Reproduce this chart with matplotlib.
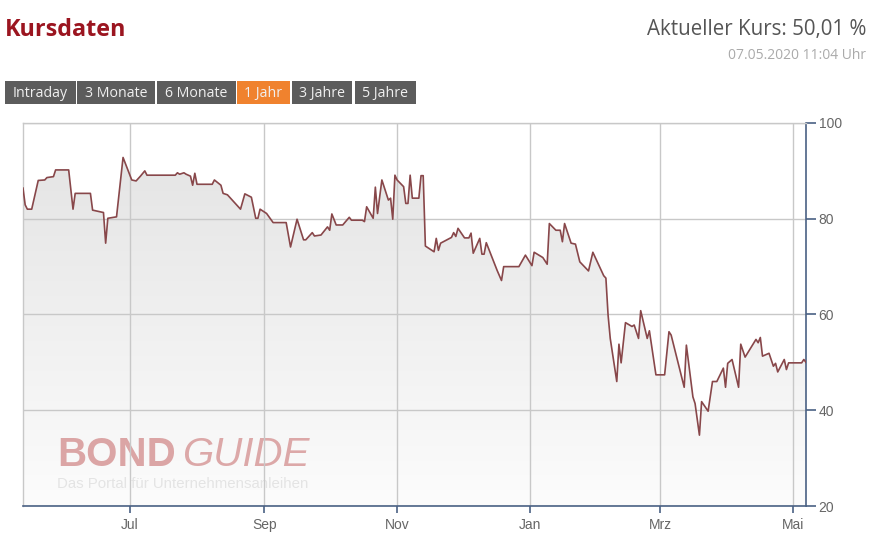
import numpy as np
import pandas as pd
import matplotlib
matplotlib.use("Agg")
import matplotlib.pyplot as plt
import matplotlib.dates as mdates
from matplotlib.patches import Rectangle, Polygon
from matplotlib.colors import LinearSegmentedColormap

dates = [
    "2019-05-13", "2019-05-14", "2019-05-15", "2019-05-17", "2019-05-20", "2019-05-23",
    "2019-05-24", "2019-05-27", "2019-05-28", "2019-06-03", "2019-06-05", "2019-06-06",
    "2019-06-13", "2019-06-14", "2019-06-17", "2019-06-19", "2019-06-20", "2019-06-21",
    "2019-06-25", "2019-06-28", "2019-07-02", "2019-07-04", "2019-07-06", "2019-07-08",
    "2019-07-09", "2019-07-22", "2019-07-23", "2019-07-24", "2019-07-26", "2019-07-27",
    "2019-07-29", "2019-07-30", "2019-07-31", "2019-08-01", "2019-08-08", "2019-08-09",
    "2019-08-12", "2019-08-13", "2019-08-15", "2019-08-21", "2019-08-23", "2019-08-26",
    "2019-08-28", "2019-08-29", "2019-08-30", "2019-09-02", "2019-09-05", "2019-09-11",
    "2019-09-13", "2019-09-16", "2019-09-19", "2019-09-20", "2019-09-23", "2019-09-24",
    "2019-09-27", "2019-09-30", "2019-10-01", "2019-10-02", "2019-10-04", "2019-10-07",
    "2019-10-10", "2019-10-11", "2019-10-16", "2019-10-17", "2019-10-18", "2019-10-21",
    "2019-10-22", "2019-10-23", "2019-10-25", "2019-10-28", "2019-10-29", "2019-10-30",
    "2019-10-31", "2019-11-01", "2019-11-04", "2019-11-05", "2019-11-06", "2019-11-07",
    "2019-11-08", "2019-11-11", "2019-11-12", "2019-11-13", "2019-11-14", "2019-11-18",
    "2019-11-19", "2019-11-20", "2019-11-21", "2019-11-26", "2019-11-27", "2019-11-28",
    "2019-11-29", "2019-12-02", "2019-12-04", "2019-12-05", "2019-12-06", "2019-12-09",
    "2019-12-10", "2019-12-11", "2019-12-12", "2019-12-17", "2019-12-19", "2019-12-20",
    "2019-12-27", "2019-12-30", "2020-01-02", "2020-01-03", "2020-01-07", "2020-01-09",
    "2020-01-10", "2020-01-13", "2020-01-15", "2020-01-16", "2020-01-17", "2020-01-20",
    "2020-01-22", "2020-01-24", "2020-01-28", "2020-01-30", "2020-02-04", "2020-02-05",
    "2020-02-06", "2020-02-07", "2020-02-10", "2020-02-11", "2020-02-12", "2020-02-14",
    "2020-02-17", "2020-02-18", "2020-02-20", "2020-02-21", "2020-02-24", "2020-02-25",
    "2020-02-28", "2020-03-03", "2020-03-05", "2020-03-06", "2020-03-12", "2020-03-13",
    "2020-03-16", "2020-03-17", "2020-03-19", "2020-03-20", "2020-03-23", "2020-03-25",
    "2020-03-27", "2020-03-30", "2020-03-31", "2020-04-01", "2020-04-03", "2020-04-06",
    "2020-04-07", "2020-04-09", "2020-04-14", "2020-04-15", "2020-04-16", "2020-04-17",
    "2020-04-20", "2020-04-22", "2020-04-23", "2020-04-24", "2020-04-27", "2020-04-28",
    "2020-04-29", "2020-05-05", "2020-05-06", "2020-05-07",
]
kurs = [
    86.4, 82.9, 82.0, 82.0, 88.0, 88.1,
    88.6, 88.8, 90.2, 90.2, 82.0, 85.3,
    85.3, 81.8, 81.5, 81.3, 74.9, 80.1,
    80.4, 92.8, 88.1, 87.9, 88.9, 90.0,
    89.1, 89.1, 89.6, 89.3, 89.6, 89.3,
    88.9, 87.0, 89.5, 87.2, 87.2, 88.1,
    87.0, 85.3, 85.0, 82.0, 85.2, 84.5,
    80.1, 80.1, 82.0, 81.1, 79.2, 79.2,
    74.1, 79.9, 75.6, 75.6, 77.1, 76.4,
    76.6, 78.3, 77.6, 81.0, 78.7, 78.7,
    80.3, 79.7, 79.7, 79.4, 82.5, 80.1,
    86.6, 81.1, 88.1, 83.9, 84.3, 79.9,
    89.1, 88.1, 86.7, 83.2, 83.2, 89.1,
    84.3, 84.3, 89.0, 89.0, 74.3, 73.1,
    75.9, 73.4, 74.9, 76.1, 77.1, 76.3,
    78.0, 76.0, 76.0, 77.0, 72.8, 75.9,
    72.6, 72.6, 75.0, 69.2, 67.1, 70.0,
    70.0, 72.4, 70.2, 73.0, 71.9, 70.5,
    79.0, 77.6, 77.6, 75.2, 79.0, 74.9,
    74.7, 71.0, 69.1, 73.0, 68.1, 67.6,
    59.9, 55.0, 46.0, 53.8, 49.9, 58.3,
    57.5, 57.8, 55.0, 60.8, 55.0, 56.6,
    47.4, 47.4, 56.4, 55.7, 44.8, 53.6,
    42.8, 41.4, 34.8, 41.8, 39.8, 46.0,
    46.0, 48.8, 44.8, 49.8, 50.6, 44.8,
    53.8, 51.1, 54.8, 54.1, 55.2, 51.3,
    51.9, 49.2, 49.8, 48.0, 50.6, 48.5,
    49.9, 49.9, 50.6, 50.01,
]

tick_dates = ["2019-07-01", "2019-09-01", "2019-11-01", "2020-01-01", "2020-03-01", "2020-05-01"]
tick_labels = ["Jul", "Sep", "Nov", "Jan", "Mrz", "Mai"]
y_ticks = [20, 40, 60, 80, 100]
buttons = ["Intraday", "3 Monate", "6 Monate", "1 Jahr", "3 Jahre", "5 Jahre"]
aktiv = "1 Jahr"

W, H = 876, 549


def fx(px):
    return px / W


def fy(py):
    return 1 - py / H


fig = plt.figure(figsize=(W / 100, H / 100), dpi=100)
fig.patch.set_facecolor("white")

# Kopfzeile
fig.text(fx(5), fy(36), "Kursdaten", fontsize=16.8, fontweight="bold",
         color="#9b1520", family="Open Sans", va="baseline")
fig.text(fx(866), fy(35), "Aktueller Kurs: 50,01 %", fontsize=14.8,
         color="#555555", family="Open Sans", ha="right", va="baseline")
fig.text(fx(866), fy(59), "07.05.2020 11:04 Uhr", fontsize=10,
         color="#aaaaaa", family="Open Sans", ha="right", va="baseline")

# Zeitraum-Buttons
btn_x = [(5, 76), (77, 155), (157, 236), (237, 290), (292, 352), (355, 416)]
for name, (x0, x1) in zip(buttons, btn_x):
    col = "#f0822e" if name == aktiv else "#5c5c5c"
    fig.patches.append(Rectangle((fx(x0), fy(104)), fx(x1 - x0), (104 - 81) / H,
                                 transform=fig.transFigure, facecolor=col,
                                 edgecolor="none"))
    fig.text(fx((x0 + x1) / 2), fy(93.5), name, fontsize=10.2, color="#f0f0f0",
             family="Open Sans", ha="center", va="center")

# Chartbereich
ax = fig.add_axes([fx(23), fy(506), fx(806 - 23), (506 - 123) / H])
x = mdates.date2num(pd.to_datetime(dates))
y = np.array(kurs)

x_start = mdates.date2num(pd.Timestamp("2019-05-13"))
x_end = mdates.date2num(pd.Timestamp("2020-05-07"))

# Verlaufsfuellung unter der Linie
cmap = LinearSegmentedColormap.from_list("grau", ["#fcfcfc", "#e4e4e4"])
grad = np.linspace(0, 1, 256).reshape(-1, 1)
im = ax.imshow(grad, cmap=cmap, origin="lower", aspect="auto",
               extent=[x_start, x_end, 20, 95], zorder=0.2)
verts = [(x[0], 20)] + list(zip(x, y)) + [(x[-1], 20)]
poly = Polygon(verts, closed=True, facecolor="none", edgecolor="none")
ax.add_patch(poly)
im.set_clip_path(poly)

ax.plot(x, y, color="#88474a", linewidth=1.2, zorder=3)

# Wasserzeichen
ax.text((57 - 23) / 783, (506 - 466) / 383, "BOND", transform=ax.transAxes,
        fontsize=29, fontweight="bold", color="#dba5a5", family="Liberation Sans",
        va="baseline", zorder=1)
ax.text((182 - 23) / 783, (506 - 466) / 383, "GUIDE", transform=ax.transAxes,
        fontsize=29, fontstyle="italic", color="#dca8a8", family="Liberation Sans",
        va="baseline", zorder=1)
ax.text((57 - 23) / 783, (506 - 488) / 383, "Das Portal für Unternehmensanleihen",
        transform=ax.transAxes, fontsize=10.8, color="#e4e4e4",
        family="Liberation Sans", va="baseline", zorder=1)

ax.set_xlim(x_start, x_end)
ax.set_ylim(20, 100)
ax.set_xticks(mdates.date2num(pd.to_datetime(tick_dates)))
ax.set_xticklabels(tick_labels)
ax.set_yticks(y_ticks)
ax.yaxis.tick_right()

ax.set_axisbelow("line")
ax.grid(True, color="#c8c8c8", linewidth=1.0)

for side in ["left", "top"]:
    ax.spines[side].set_color("#c8c8c8")
    ax.spines[side].set_linewidth(1.0)
for side in ["right", "bottom"]:
    ax.spines[side].set_color("#4a6184")
    ax.spines[side].set_linewidth(1.2)

ax.tick_params(axis="x", colors="#4a6184", length=5, width=1.2, pad=3.5,
               labelcolor="#666666", labelsize=10)
ax.tick_params(axis="y", colors="#4a6184", length=7, width=1.2, pad=2,
               labelcolor="#666666", labelsize=10, right=True, left=False)
for lbl in ax.get_xticklabels() + ax.get_yticklabels():
    lbl.set_family("Liberation Sans")

plt.savefig("out.png", dpi=100, facecolor="white")
